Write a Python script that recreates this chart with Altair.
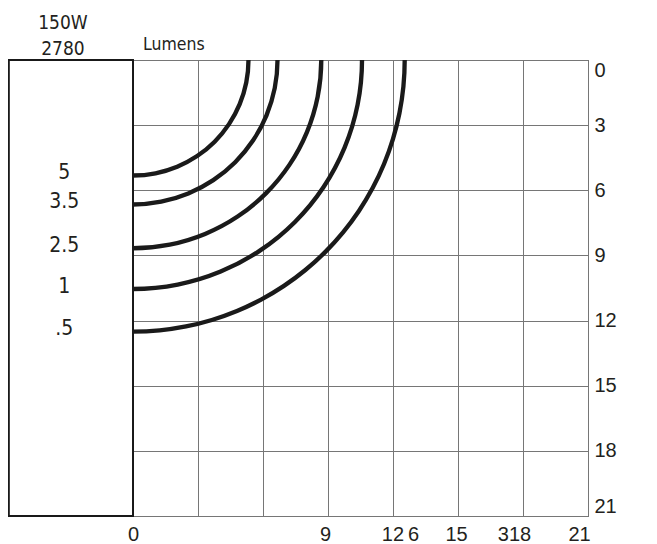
import math
import altair as alt
import pandas as pd

# ---- data ----
fc_labels = ["5", "3.5", "2.5", "1", ".5"]          # footcandle value per curve
fc_radii = [5.33, 6.67, 8.69, 10.57, 12.54]          # curve radius (ft) from the fixture
grid_ticks = [0, 3, 6, 9, 12, 15, 18, 21]
x_label_values = [0, 9, 12, 15, 18, 21]
x_label_texts = ["0", "9", "12\u20096", "15", "318", "21"]
lamp_watts = "150W"
lamp_lumens = "2780"
unit_label = "Lumens"
box_left = -5.74   # left edge of the lamp-info box, in chart units

curves = pd.DataFrame({"label": fc_labels, "r": fc_radii})

NARROW = "DejaVu Sans Condensed, sans-serif"
SANS = "Liberation Sans, Arial, sans-serif"
INK = "#231f20"
GRID = "#767676"

xscale = alt.Scale(domain=[0, 21], nice=False, zero=False)
yscale = alt.Scale(domain=[0, 21], nice=False, zero=False, reverse=True)
rscale = alt.Scale(type="linear", domain=[0, 21], range=[0, 455], zero=True, nice=False)

label_map = " : ".join(
    f"datum.value == {v} ? '{t}'" for v, t in zip(x_label_values, x_label_texts)
) + " : ''"
offset_expr = ("datum.value == 9 ? -3 : datum.value == 12 ? 7 : datum.value == 15 ? -2 : "
               "datum.value == 18 ? -9 : datum.value == 21 ? -9 : 0")

xaxis = alt.Axis(values=grid_ticks, grid=True, gridColor=GRID, gridWidth=1,
                 domain=False, ticks=False, tickSize=0, labelExpr=label_map,
                 labelOffset=alt.ExprRef(offset_expr), labelFlush=False,
                 labelPadding=8, labelFont=SANS, labelFontSize=20,
                 labelColor=INK, title=None)
yaxis = alt.Axis(values=grid_ticks, orient="right", grid=True, gridColor=GRID,
                 gridWidth=1, domain=False, ticks=False, tickSize=0,
                 labelFlush=True, labelPadding=6, labelFont=SANS,
                 labelFontSize=20, labelColor=INK, title=None)

box = alt.Chart(curves).mark_rect(filled=False, stroke="#1a1a1a", strokeWidth=1.3).encode(
    x=alt.X(datum=box_left, scale=xscale, axis=xaxis),
    x2=alt.X2(datum=0),
    y=alt.Y(datum=0, scale=yscale, axis=yaxis),
    y2=alt.Y2(datum=21),
)

arcs = alt.Chart(curves).transform_calculate(
    r_in="datum.r - 0.1", r_out="datum.r + 0.1"
).mark_arc(color="#1a1a1a").encode(
    x=alt.X(datum=0, scale=xscale),
    y=alt.Y(datum=0, scale=yscale),
    radius=alt.Radius("r_in:Q", scale=rscale),
    radius2=alt.Radius2("r_out:Q"),
    theta=alt.value(math.pi / 2),
    theta2=alt.value(math.pi),
)

box_labels = alt.Chart(curves).mark_text(
    font=NARROW, fontSize=21, color=INK, align="center", baseline="middle", dy=-3
).encode(
    x=alt.X(datum=box_left / 2 - 0.3, scale=xscale),
    y=alt.Y("r:Q", scale=yscale),
    text="label:N",
)

watts = alt.Chart(pd.DataFrame({"t": [lamp_watts]})).mark_text(
    font=NARROW, fontSize=19, color=INK, align="center", baseline="middle"
).encode(x=alt.value(-70), y=alt.value(-37), text="t:N")
lumens = alt.Chart(pd.DataFrame({"t": [lamp_lumens]})).mark_text(
    font=NARROW, fontSize=19, color=INK, align="center", baseline="middle"
).encode(x=alt.value(-70), y=alt.value(-11), text="t:N")
unit = alt.Chart(pd.DataFrame({"t": [unit_label]})).mark_text(
    font=NARROW, fontSize=17.5, color=INK, align="left", baseline="alphabetic"
).encode(x=alt.value(10), y=alt.value(-10), text="t:N")

chart = alt.layer(box, arcs, box_labels, watts, lumens, unit).properties(
    width=455, height=456,
    padding={"left": 125, "top": 52, "right": 40, "bottom": 30},
    autosize=alt.AutoSizeParams(type="none"),
    background="white",
).configure_view(stroke="#444", strokeWidth=1)

chart.save("out.html", embed_options={"renderer": "svg", "actions": False})
